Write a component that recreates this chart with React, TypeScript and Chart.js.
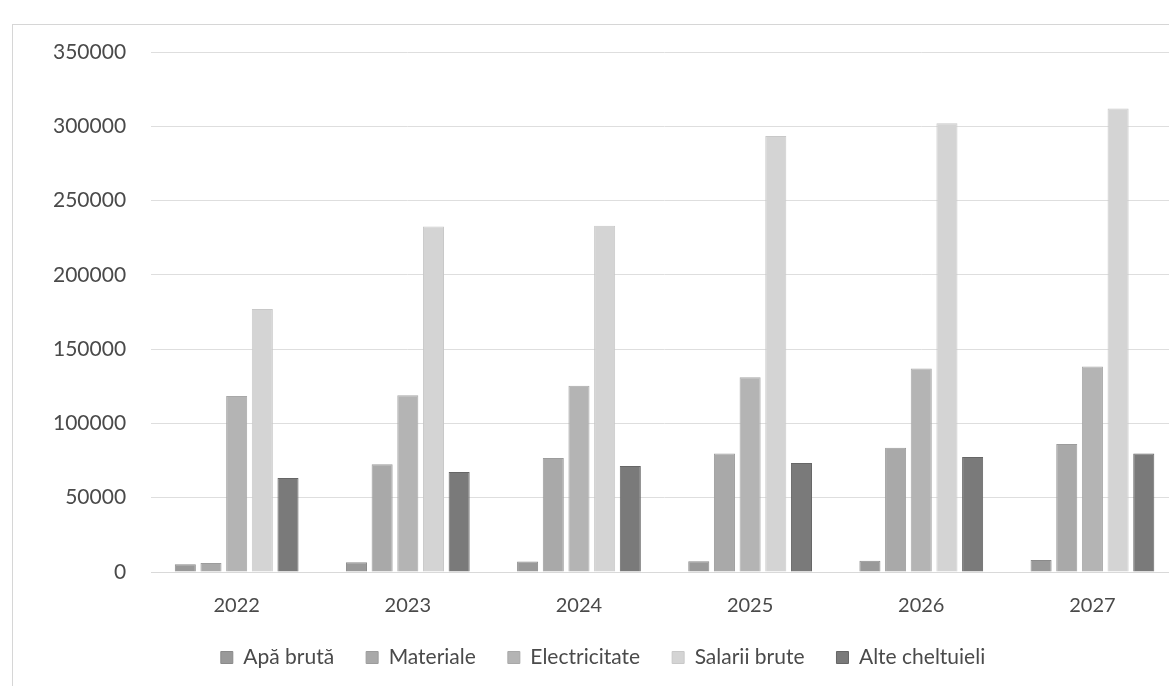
import React, { useEffect, useRef } from "react";
import { Chart, registerables } from "chart.js";

Chart.register(...registerables);

const categories = ["2022", "2023", "2024", "2025", "2026", "2027"];
const apaBruta = [5300, 6500, 7000, 7300, 7500, 8000];
const materiale = [6100, 72500, 76700, 79700, 83700, 86100];
const electricitate = [118500, 119000, 125300, 131000, 137000, 138300];
const salariiBrute = [177000, 232500, 233000, 293500, 302000, 312000];
const alteCheltuieli = [63300, 67300, 71300, 73400, 77400, 79800];
const seriesNames = ["Apă brută", "Materiale", "Electricitate", "Salarii brute", "Alte cheltuieli"];
const yTicks = [0, 50000, 100000, 150000, 200000, 250000, 300000, 350000];

const FONT = "Lato, 'Open Sans', sans-serif";

export default function App() {
  const ref = useRef<HTMLCanvasElement | null>(null);

  useEffect(() => {
    if (!ref.current) return;
    const fills = ["#999999", "#a9a9a9", "#b4b4b4", "#d4d4d4", "#7a7a7a"];
    const borders = ["#8a8a8a", "#9c9c9c", "#a8a8a8", "#c8c8c8", "#666666"];
    const data = [apaBruta, materiale, electricitate, salariiBrute, alteCheltuieli];
    const chart = new Chart(ref.current, {
      type: "bar",
      data: {
        labels: categories,
        datasets: seriesNames.map((name, i) => ({
          label: name,
          data: data[i],
          backgroundColor: fills[i],
          borderColor: borders[i],
          borderWidth: 1,
          categoryPercentage: 0.75,
          barPercentage: 0.82,
        })),
      },
      options: {
        animation: false,
        responsive: false,
        maintainAspectRatio: false,
        layout: { padding: { left: 28, right: 17, top: 52, bottom: 8 } },
        plugins: {
          tooltip: { enabled: false },
          legend: {
            position: "bottom",
            labels: {
              boxWidth: 12,
              boxHeight: 12,
              padding: 32,
              color: "#4a4a4a",
              font: { family: FONT, size: 21 },
            },
          },
        },
        scales: {
          x: {
            grid: { display: false, drawTicks: false },
            border: { display: true, color: "#d9d9d9" },
            ticks: { color: "#4a4a4a", padding: 22, font: { family: FONT, size: 20 } },
            afterFit: (scale: any) => {
              scale.height -= 25;
            },
          },
          y: {
            min: 0,
            max: 350000,
            afterBuildTicks: (scale: any) => {
              scale.ticks = yTicks.map((v) => ({ value: v }));
            },
            grid: { color: "#dedede", drawTicks: false },
            border: { display: false },
            ticks: {
              color: "#4a4a4a",
              padding: 25,
              font: { family: FONT, size: 21 },
              callback: (v: any) => String(v),
            },
          },
        },
      },
    });
    return () => chart.destroy();
  }, []);

  return (
    <div
      style={{
        position: "fixed",
        left: 0,
        top: 0,
        width: 1169,
        height: 686,
        overflow: "hidden",
        background: "#ffffff",
      }}
    >
      <div
        style={{
          position: "absolute",
          left: 12,
          top: 24,
          width: 1200,
          height: 700,
          border: "1px solid #d6d6d6",
        }}
      />
      <canvas
        ref={ref}
        width={1195}
        height={686}
        style={{ position: "absolute", left: 0, top: 0, width: 1195, height: 686 }}
      />
    </div>
  );
}
